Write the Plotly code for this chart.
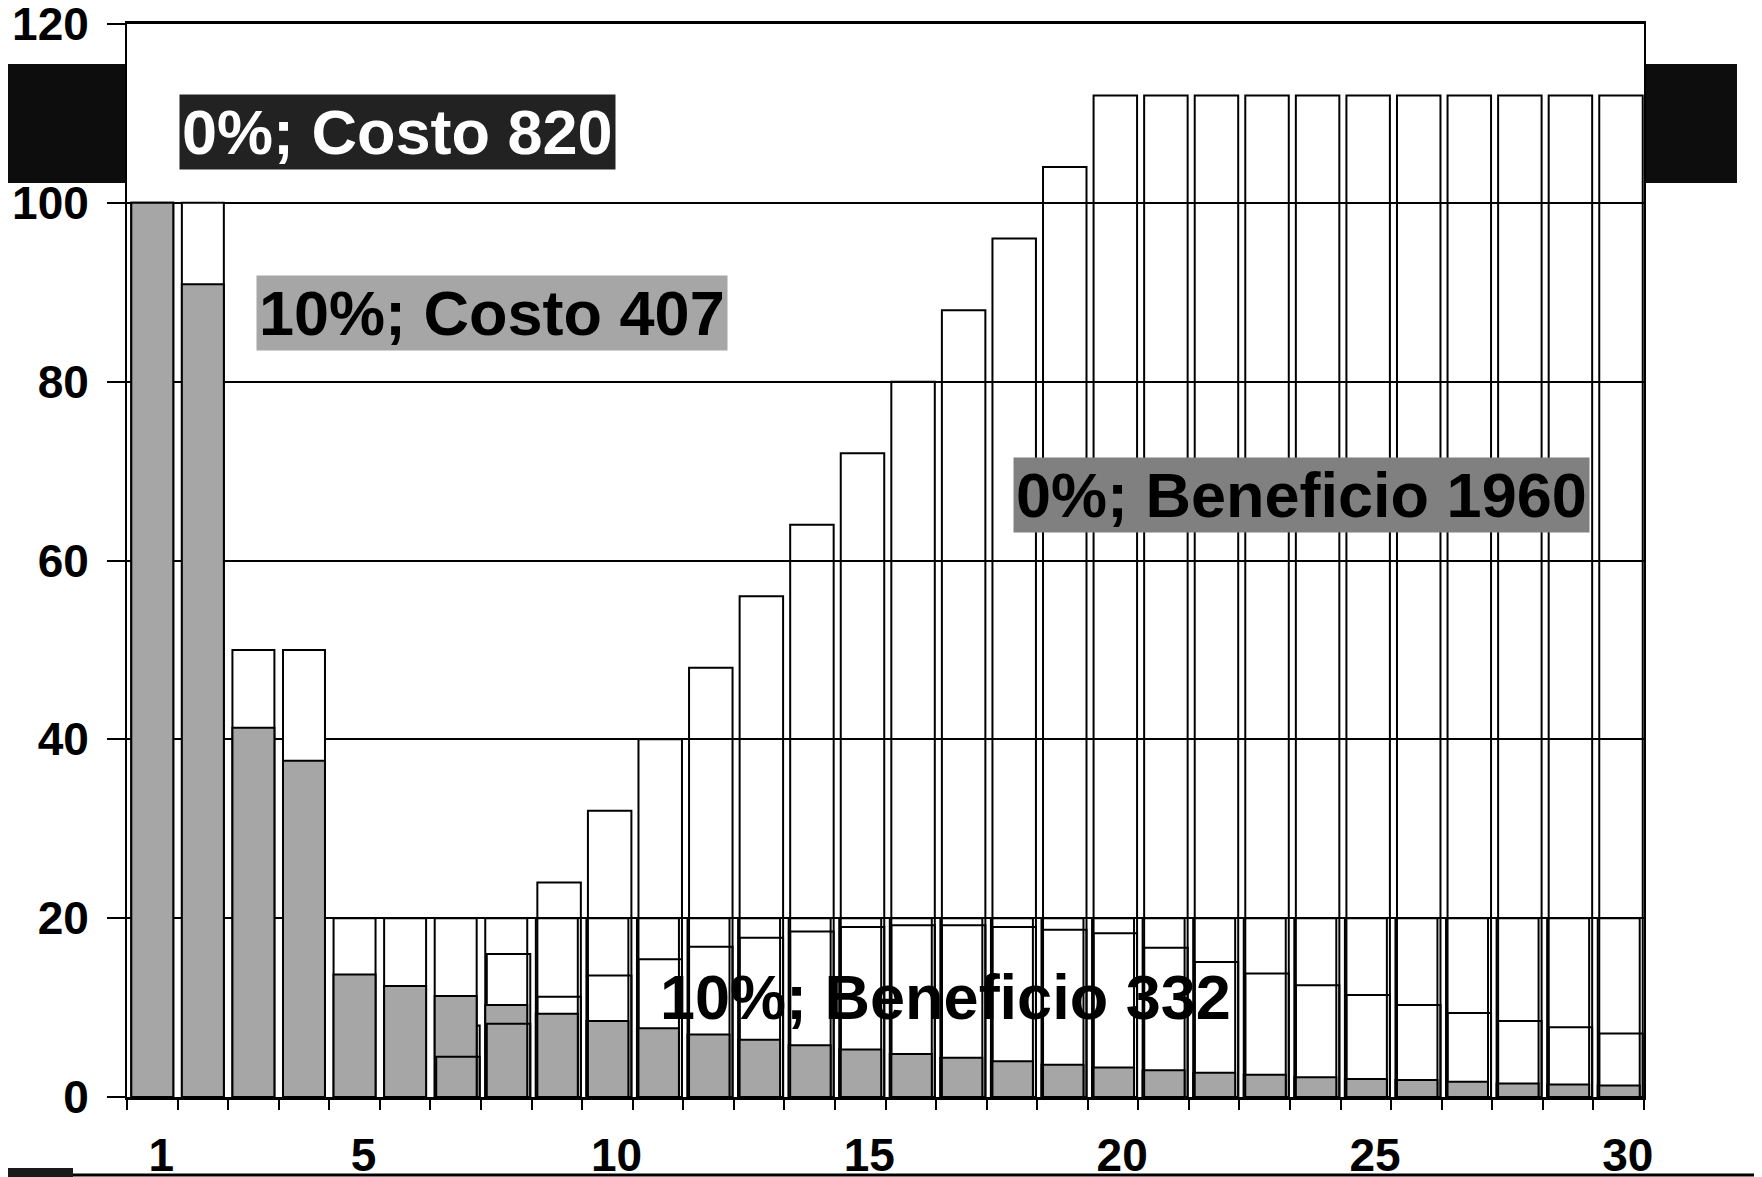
import plotly.graph_objects as go

years = list(range(1, 31))

# 0% (undiscounted) cost per year
cost_0 = [100, 100, 50, 50] + [20] * 26
# 10% discounted cost per year
cost_10 = [100, 90.9, 41.3, 37.6, 13.7, 12.4, 11.3, 10.3, 9.3, 8.5,
           7.7, 7.0, 6.4, 5.8, 5.3, 4.8, 4.4, 4.0, 3.6, 3.3,
           3.0, 2.7, 2.5, 2.2, 2.0, 1.9, 1.7, 1.5, 1.4, 1.3]
# 0% (undiscounted) benefit per year
benefit_0 = [None] * 6 + [8, 16, 24, 32, 40, 48, 56, 64, 72, 80,
                          88, 96, 104] + [112] * 11
# 10% discounted benefit per year
benefit_10 = [None] * 6 + [4.5, 8.2, 11.2, 13.6, 15.4, 16.8, 17.8, 18.5, 19.0, 19.2,
                           19.2, 19.0, 18.7, 18.3, 16.7, 15.1, 13.8, 12.5, 11.4, 10.3,
                           9.4, 8.5, 7.8, 7.1]

x_labels = [1, 5, 10, 15, 20, 25, 30]
y_ticks = [0, 20, 40, 60, 80, 100, 120]

labels = ["0%; Costo 820", "10%; Costo 407", "0%; Beneficio 1960", "10%; Beneficio 332"]

FONT = "Liberation Sans, Arial, Helvetica, sans-serif"

fig = go.Figure()
fig.add_trace(go.Bar(x=years, y=cost_0, width=0.83, offset=-0.415,
                     marker=dict(color="white", line=dict(color="black", width=2)),
                     name=labels[0]))
fig.add_trace(go.Bar(x=years, y=benefit_0, width=0.86, offset=-0.385,
                     marker=dict(color="rgba(0,0,0,0)", line=dict(color="black", width=2)),
                     name=labels[2]))
fig.add_trace(go.Bar(x=years, y=cost_10, width=0.83, offset=-0.415,
                     marker=dict(color="#a6a6a6", line=dict(color="black", width=2)),
                     name=labels[1]))
fig.add_trace(go.Bar(x=years, y=benefit_10, width=0.86, offset=-0.385,
                     marker=dict(color="rgba(0,0,0,0)", line=dict(color="black", width=2)),
                     name=labels[3]))

fig.update_layout(
    width=1762, height=1177,
    barmode="overlay",
    showlegend=False,
    paper_bgcolor="white", plot_bgcolor="white",
    margin=dict(l=119, r=126, t=16, b=88, autoexpand=False),
    font=dict(family=FONT, color="black"),
)

fig.update_xaxes(
    range=[0.5, 30.5],
    tickmode="array", tickvals=[v + 0.18 for v in x_labels], ticktext=[str(v) for v in x_labels],
    ticks="", ticklabelstandoff=16, ticklabeloverflow="allow",
    tickfont=dict(family=FONT, size=46, weight="bold", color="black"),
    showgrid=False, zeroline=False,
    showline=True, mirror=True, linecolor="black", linewidth=2.5,
    minor=dict(tickmode="array", tickvals=[v + 0.5 for v in range(0, 31)],
               ticks="outside", ticklen=10, tickwidth=2, tickcolor="black", showgrid=False),
)
fig.update_yaxes(
    range=[0, 120],
    tickmode="array", tickvals=y_ticks,
    ticks="outside", ticklen=18, tickwidth=2, tickcolor="black",
    ticklabelstandoff=9, ticklabeloverflow="allow",
    tickfont=dict(family=FONT, size=46, weight="bold", color="black"),
    showgrid=True, gridcolor="black", gridwidth=1.8,
    zeroline=False,
    showline=True, mirror=True, linecolor="black", linewidth=2,
)

# annotations (labels on the chart)
ann = [
    dict(text=labels[0], x=0.1786, y=0.8993, bgcolor="#222222", fc="white"),
    dict(text=labels[1], x=0.2403, y=0.7302, bgcolor="#a6a6a6", fc="black"),
    dict(text=labels[2], x=0.7739, y=0.5615, bgcolor="#808080", fc="black"),
    dict(text=labels[3], x=0.5396, y=0.0932, bgcolor="rgba(0,0,0,0)", fc="black"),
]
for a in ann:
    fig.add_annotation(text=a["text"], x=a["x"], y=a["y"], xref="paper", yref="paper",
                       xanchor="center", yanchor="middle", showarrow=False,
                       bgcolor=a["bgcolor"], borderpad=2,
                       font=dict(family=FONT, size=63, weight="bold", color=a["fc"]))

# decorative dark blocks and bottom rule from the original slide
shapes = [
    dict(type="rect", xref="paper", yref="paper", x0=-0.0837, x1=-0.001, y0=0.8518, y1=0.9627,
         fillcolor="#0d0d0d", line=dict(width=0), layer="below"),
    dict(type="rect", xref="paper", yref="paper", x0=1.001, x1=1.0613, y0=0.8518, y1=0.9627,
         fillcolor="#0d0d0d", line=dict(width=0), layer="below"),
    dict(type="line", xref="paper", yref="paper", x0=-0.0837, x1=1.0732, y0=-0.0727, y1=-0.0727,
         line=dict(color="black", width=3)),
    dict(type="rect", xref="paper", yref="paper", x0=-0.0837, x1=-0.0356, y0=-0.0746, y1=-0.0662,
         fillcolor="#1a1a1a", line=dict(width=0)),
]
for s in shapes:
    fig.add_shape(**s)

fig.write_html("out.html")
